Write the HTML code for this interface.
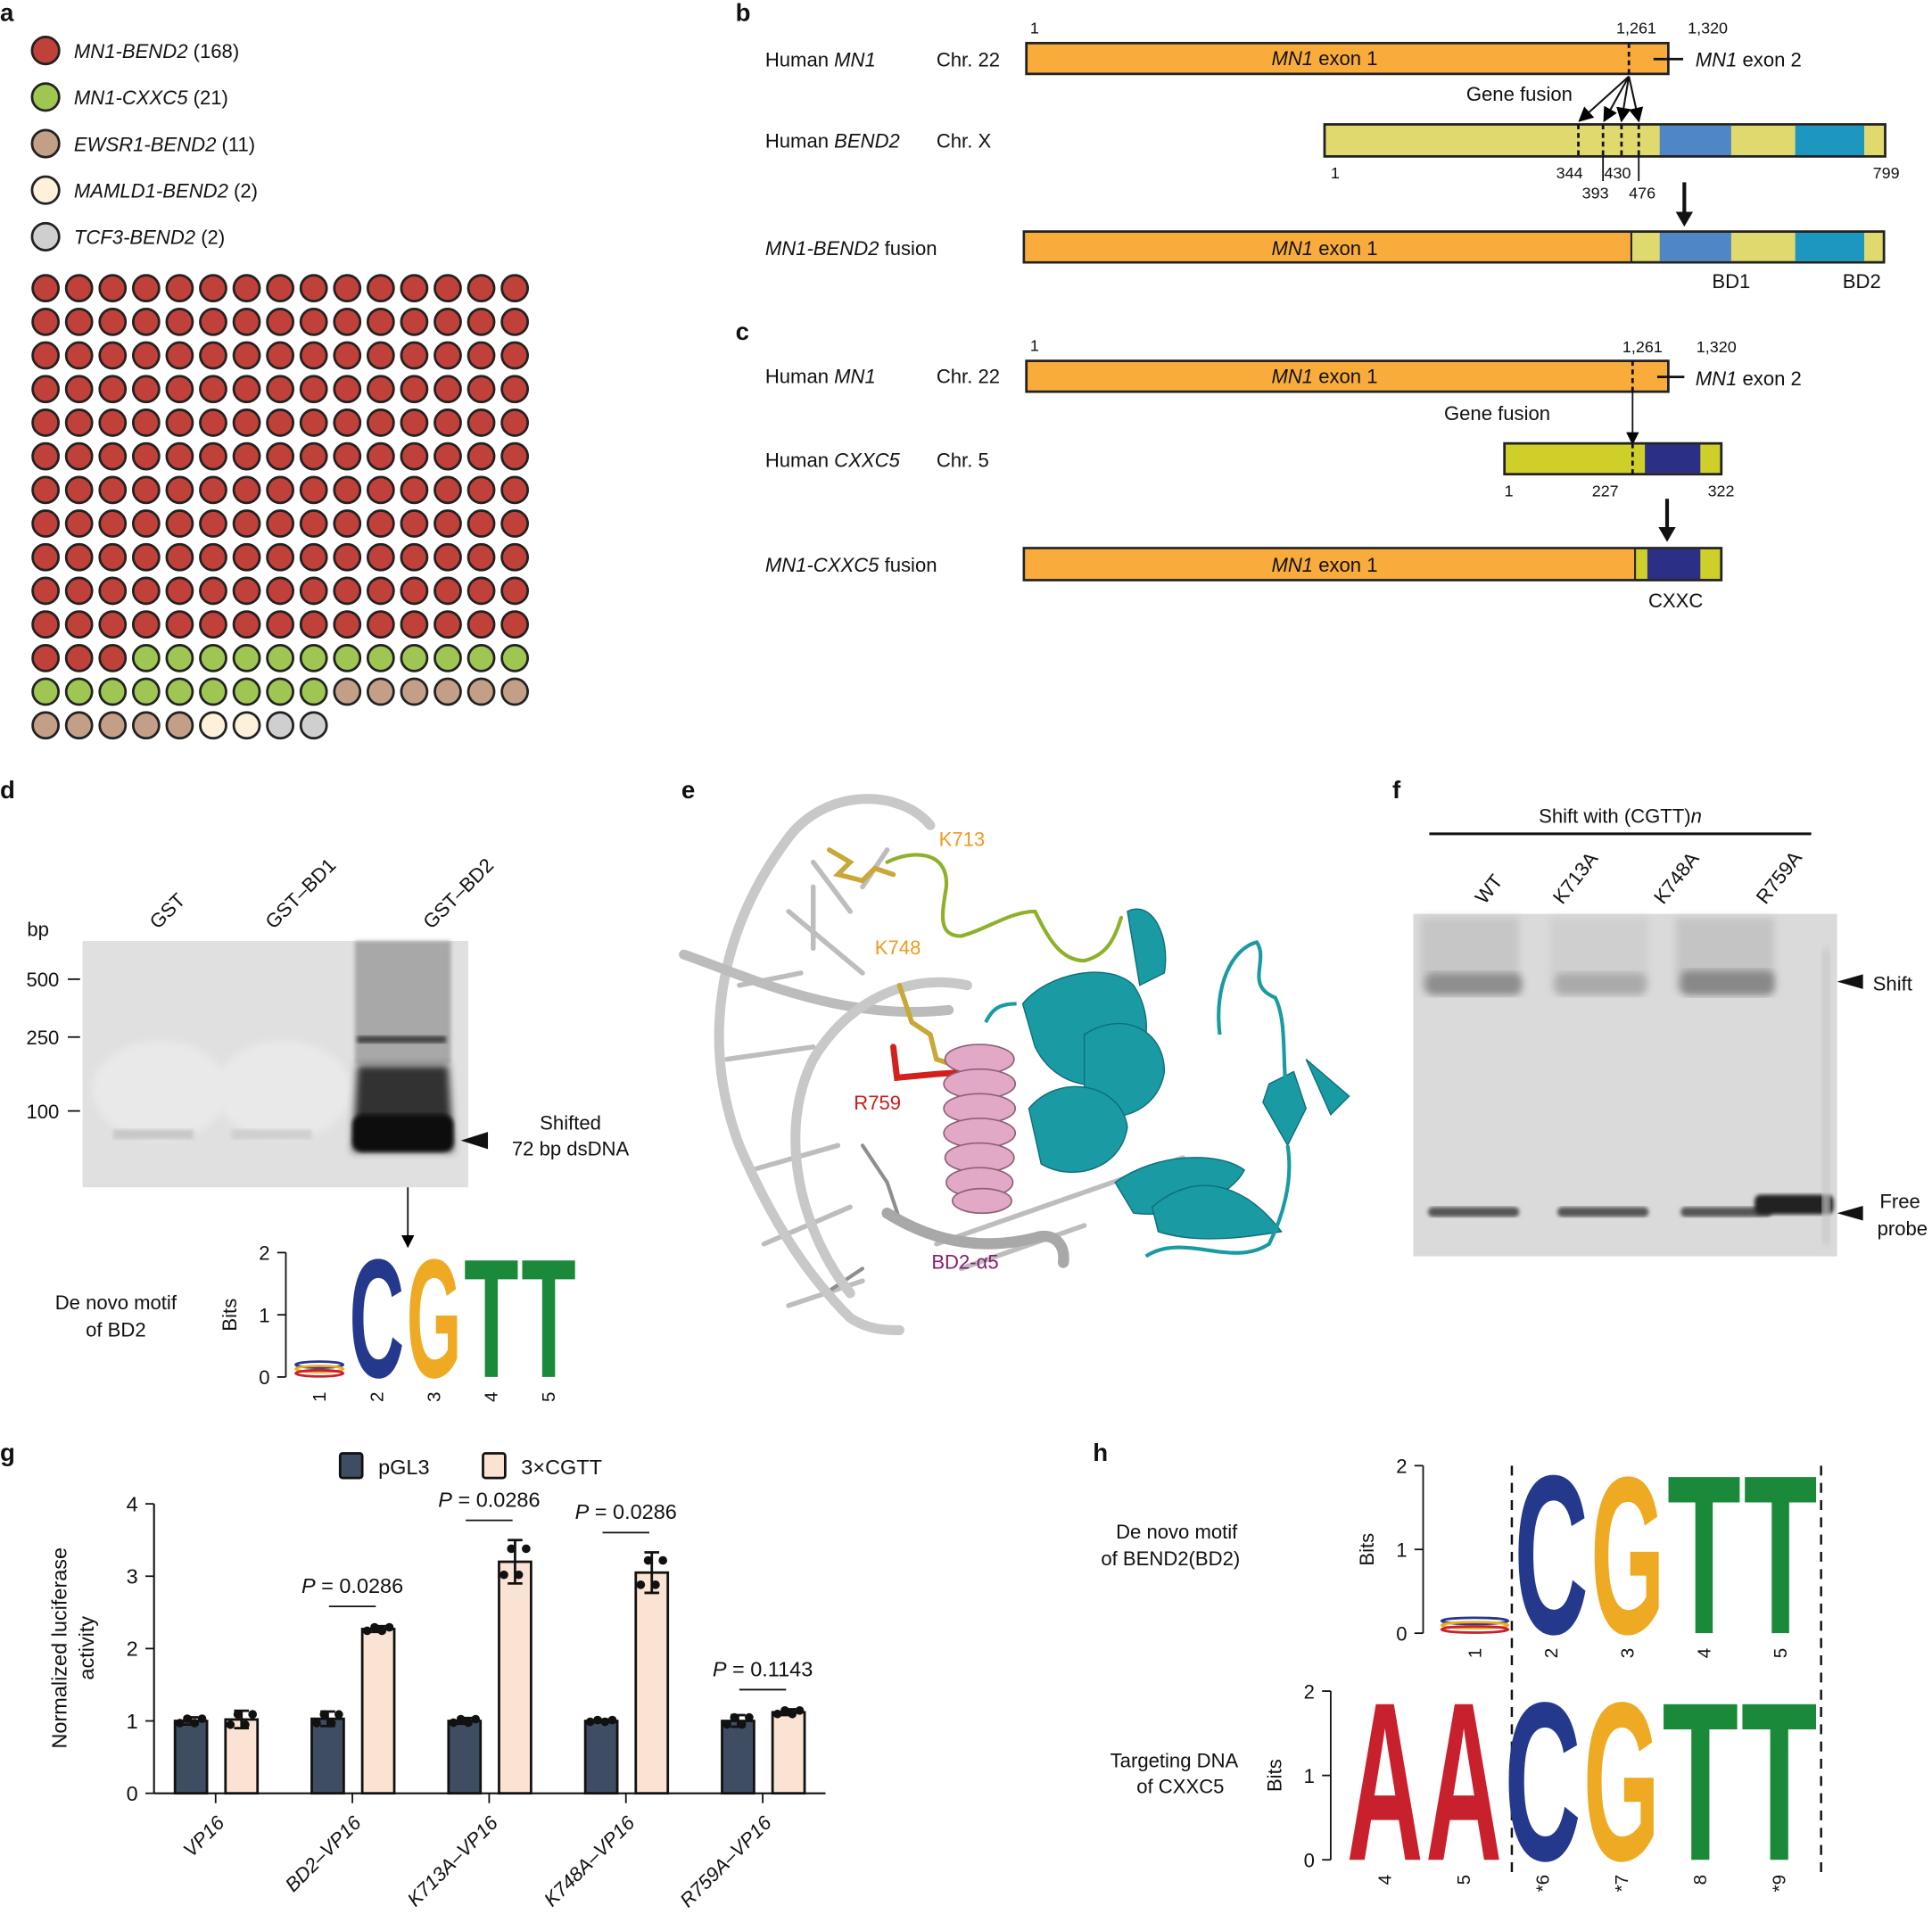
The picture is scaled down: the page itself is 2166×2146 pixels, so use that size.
<!DOCTYPE html>
<html><head><meta charset="utf-8"><style>
html,body{margin:0;padding:0;background:#fff}
svg{display:block;font-family:"Liberation Sans",sans-serif}
</style></head><body>
<svg id="fig" width="2166" height="2146" viewBox="0 0 1568 1554" preserveAspectRatio="none" xmlns="http://www.w3.org/2000/svg">
<defs>
<marker id="ah" markerWidth="8" markerHeight="8" refX="7" refY="4" orient="auto"><path d="M0,0 L8,4 L0,8 z" fill="#000"/></marker>
<filter id="blur2"><feGaussianBlur stdDeviation="3"/></filter>
<filter id="blur1"><feGaussianBlur stdDeviation="1.5"/></filter>
</defs>
<g font-size="16" fill="#111">
<text x="0" y="17" font-weight="bold" font-size="20">a</text>
<text x="597" y="17" font-weight="bold" font-size="20">b</text>
<text x="597" y="276" font-weight="bold" font-size="20">c</text>
<text x="0" y="648" font-weight="bold" font-size="20">d</text>
<text x="553" y="648" font-weight="bold" font-size="20">e</text>
<text x="1130" y="648" font-weight="bold" font-size="20">f</text>
<text x="0" y="1186" font-weight="bold" font-size="20">g</text>
<text x="887" y="1186" font-weight="bold" font-size="20">h</text>
</g>
<g id="panelA"></g>

<g font-size="16" fill="#111">
<text x="621" y="54">Human <tspan font-style="italic">MN1</tspan></text>
<text x="760" y="54">Chr. 22</text>
<rect x="833" y="35" width="521" height="25" fill="#f9ac3b" stroke="#222" stroke-width="2"/>
<text x="1075" y="53" text-anchor="middle"><tspan font-style="italic">MN1</tspan> exon 1</text>
<text x="836" y="27" font-size="13">1</text>
<text x="1328" y="27" font-size="13" text-anchor="middle">1,261</text>
<text x="1386" y="27" font-size="13" text-anchor="middle">1,320</text>
<line x1="1322" y1="35" x2="1322" y2="60" stroke="#111" stroke-width="2" stroke-dasharray="4,3"/>
<line x1="1342" y1="48" x2="1366" y2="48" stroke="#111" stroke-width="2"/>
<text x="1376" y="54"><tspan font-style="italic">MN1</tspan> exon 2</text>
<text x="1190" y="82">Gene fusion</text>
<g stroke="#111" stroke-width="1.5" marker-end="url(#ah)">
<line x1="1322" y1="62" x2="1282" y2="98"/><line x1="1322" y1="62" x2="1302" y2="98"/>
<line x1="1322" y1="62" x2="1316" y2="98"/><line x1="1322" y1="62" x2="1330" y2="98"/></g>
<text x="621" y="120">Human <tspan font-style="italic">BEND2</tspan></text>
<text x="760" y="120">Chr. X</text>
<rect x="1075" y="101" width="455" height="26" fill="#e0d96e" stroke="#222" stroke-width="2"/>
<rect x="1347" y="102" width="58" height="24" fill="#4f86c6"/>
<rect x="1457" y="102" width="56" height="24" fill="#1d97bf"/>
<g stroke="#111" stroke-width="2" stroke-dasharray="4,3"><line x1="1281" y1="101" x2="1281" y2="127"/><line x1="1301" y1="101" x2="1301" y2="127"/><line x1="1316" y1="101" x2="1316" y2="127"/><line x1="1330" y1="101" x2="1330" y2="127"/></g>
<g stroke="#111" stroke-width="1.3"><line x1="1301" y1="127" x2="1301" y2="147"/><line x1="1330" y1="127" x2="1330" y2="147"/></g>
<g font-size="13"><text x="1080" y="145">1</text><text x="1263" y="145">344</text><text x="1284" y="161">393</text><text x="1302" y="145">430</text><text x="1322" y="161">476</text><text x="1520" y="145">799</text></g>
<line x1="1367" y1="148" x2="1367" y2="180" stroke="#111" stroke-width="3"/><path d="M1360,172 L1374,172 L1367,184 z" fill="#111"/>
<text x="621" y="207"><tspan font-style="italic">MN1-BEND2</tspan> fusion</text>
<rect x="831" y="188" width="698" height="25" fill="#e0d96e" stroke="#222" stroke-width="2"/>
<rect x="832" y="189" width="492" height="23" fill="#f9ac3b"/>
<line x1="1324" y1="188" x2="1324" y2="213" stroke="#222" stroke-width="1.5"/>
<rect x="1347" y="189" width="58" height="23" fill="#4f86c6"/>
<rect x="1457" y="189" width="56" height="23" fill="#1d97bf"/>
<text x="1075" y="207" text-anchor="middle"><tspan font-style="italic">MN1</tspan> exon 1</text>
<text x="1405" y="234" text-anchor="middle">BD1</text>
<text x="1511" y="234" text-anchor="middle">BD2</text>
</g>

<g font-size="16" fill="#111">
<text x="621" y="311">Human <tspan font-style="italic">MN1</tspan></text>
<text x="760" y="311">Chr. 22</text>
<rect x="833" y="293" width="521" height="25" fill="#f9ac3b" stroke="#222" stroke-width="2"/>
<text x="1075" y="311" text-anchor="middle"><tspan font-style="italic">MN1</tspan> exon 1</text>
<text x="836" y="285" font-size="13">1</text>
<text x="1333" y="286" font-size="13" text-anchor="middle">1,261</text>
<text x="1393" y="286" font-size="13" text-anchor="middle">1,320</text>
<line x1="1325" y1="293" x2="1325" y2="318" stroke="#111" stroke-width="2" stroke-dasharray="4,3"/>
<line x1="1345" y1="306" x2="1367" y2="306" stroke="#111" stroke-width="2"/>
<text x="1376" y="313"><tspan font-style="italic">MN1</tspan> exon 2</text>
<text x="1172" y="341">Gene fusion</text>
<line x1="1325" y1="318" x2="1325" y2="360" stroke="#111" stroke-width="1.3" marker-end="url(#ah)"/>
<text x="621" y="379">Human <tspan font-style="italic">CXXC5</tspan></text>
<text x="760" y="379">Chr. 5</text>
<rect x="1221" y="360" width="176" height="25" fill="#cfcf2a" stroke="#222" stroke-width="2"/>
<rect x="1335" y="361" width="45" height="23" fill="#2b2f86"/>
<line x1="1325" y1="360" x2="1325" y2="385" stroke="#111" stroke-width="2" stroke-dasharray="4,3"/>
<g font-size="13"><text x="1221" y="403">1</text><text x="1292" y="403">227</text><text x="1386" y="403">322</text></g>
<line x1="1353" y1="405" x2="1353" y2="436" stroke="#111" stroke-width="3"/><path d="M1346,428 L1360,428 L1353,440 z" fill="#111"/>
<text x="621" y="464"><tspan font-style="italic">MN1-CXXC5</tspan> fusion</text>
<rect x="831" y="445" width="566" height="26" fill="#cfcf2a" stroke="#222" stroke-width="2"/>
<rect x="832" y="446" width="495" height="24" fill="#f9ac3b"/>
<line x1="1327" y1="445" x2="1327" y2="471" stroke="#222" stroke-width="1.5"/>
<rect x="1337" y="446" width="43" height="24" fill="#2b2f86"/>
<text x="1075" y="464" text-anchor="middle"><tspan font-style="italic">MN1</tspan> exon 1</text>
<text x="1360" y="493" text-anchor="middle">CXXC</text>
</g>

<g font-size="16" fill="#111">
<text x="0" y="0" transform="translate(128,755) rotate(-45)">GST</text>
<text x="0" y="0" transform="translate(222,755) rotate(-45)">GST–BD1</text>
<text x="0" y="0" transform="translate(350,755) rotate(-45)">GST–BD2</text>
<text x="22" y="760">bp</text>
<rect x="67" y="764" width="313" height="200" fill="#e0e0e0"/>
<ellipse cx="130" cy="885" rx="55" ry="40" fill="#e9e9e9" filter="url(#blur2)"/>
<ellipse cx="230" cy="885" rx="55" ry="40" fill="#e9e9e9" filter="url(#blur2)"/>
<rect x="92" y="917" width="65" height="8" fill="#c8c8c8" filter="url(#blur1)"/>
<rect x="188" y="917" width="65" height="8" fill="#cfcfcf" filter="url(#blur1)"/>
<rect x="288" y="764" width="78" height="100" fill="#a8a8a8" filter="url(#blur1)"/>
<rect x="290" y="841" width="72" height="6" fill="#444" filter="url(#blur1)"/>
<path d="M290,865 L364,865 L368,935 L286,935 z" fill="#333" filter="url(#blur2)"/>
<rect x="286" y="905" width="82" height="30" rx="8" fill="#0a0a0a" filter="url(#blur1)"/>
<text x="48" y="801" text-anchor="end">500</text><line x1="55" y1="795" x2="65" y2="795" stroke="#111" stroke-width="1.3"/>
<text x="48" y="848" text-anchor="end">250</text><line x1="55" y1="842" x2="65" y2="842" stroke="#111" stroke-width="1.3"/>
<text x="48" y="908" text-anchor="end">100</text><line x1="55" y1="902" x2="65" y2="902" stroke="#111" stroke-width="1.3"/>
<path d="M374,926 L396,919 L396,933 z" fill="#111"/>
<text x="463" y="917" text-anchor="middle">Shifted</text>
<text x="463" y="938" text-anchor="middle">72 bp dsDNA</text>
<line x1="331" y1="964" x2="331" y2="1012" stroke="#111" stroke-width="1.3" marker-end="url(#ah)"/>
<text x="94" y="1063" text-anchor="middle">De novo motif</text>
<text x="94" y="1085" text-anchor="middle">of BD2</text>
</g>
<g id="logoD"></g>

<g>
<g fill="none" stroke-linecap="round">
<g stroke="#bdbdbd" stroke-width="4">
<line x1="660" y1="700" x2="690" y2="740"/><line x1="640" y1="740" x2="700" y2="790"/><line x1="600" y1="800" x2="650" y2="790"/><line x1="590" y1="860" x2="660" y2="850"/><line x1="610" y1="950" x2="680" y2="930"/><line x1="620" y1="1010" x2="690" y2="980"/><line x1="700" y1="720" x2="720" y2="690"/><line x1="760" y1="1010" x2="960" y2="940"/><line x1="780" y1="1030" x2="880" y2="995"/><line x1="640" y1="1060" x2="700" y2="1040"/><line x1="660" y1="720" x2="660" y2="770"/></g>
<g stroke="#8e8e8e" stroke-width="3"><line x1="700" y1="930" x2="720" y2="960"/><line x1="720" y1="960" x2="730" y2="990"/><line x1="670" y1="1050" x2="700" y2="1030"/></g>
<path d="M755,670 C730,640 670,640 640,680 C580,760 570,850 600,930 C630,1000 660,1040 690,1070 C705,1080 720,1080 730,1080" stroke="#c8c8c8" stroke-width="8"/>
<path d="M555,775 C600,790 680,830 770,820" stroke="#bcbcbc" stroke-width="8"/>
<path d="M785,800 C740,790 690,810 660,860 C630,920 650,1000 690,1050" stroke="#c8c8c8" stroke-width="8"/>
<path d="M720,985 C760,1010 800,1015 840,1005 C855,1000 865,1010 863,1025" stroke="#a8a8a8" stroke-width="9"/>
<path d="M720,700 C740,690 770,690 768,720 C765,740 760,760 780,760 C800,755 820,740 840,740 C850,760 860,780 880,780 C900,775 905,760 910,745" stroke="#8fb02a" stroke-width="3"/>
<path d="M673,690 L690,700 L680,710 L700,715 L710,705 L725,710" stroke="#c9a838" stroke-width="4"/>
<path d="M730,800 L740,830 L755,840 L760,860 L775,865" stroke="#c9a838" stroke-width="4"/>
<path d="M725,850 L728,875 L760,872 L790,870" stroke="#d2201c" stroke-width="5"/>
</g>
<g fill="#1a9aa3" stroke="#0e6e78" stroke-width="1">
<path d="M830,815 C850,790 900,780 920,800 C940,830 930,870 900,880 C870,885 850,870 840,850 z"/>
<path d="M880,840 C910,820 945,835 945,870 C940,905 900,915 880,900 z"/>
<path d="M835,900 C860,870 910,880 915,915 C910,950 870,960 845,945 z"/>
<path d="M915,740 C935,730 950,760 945,790 L925,800 z"/>
<path d="M905,960 C940,935 990,935 1010,950 C1000,970 960,990 920,985 z"/>
<path d="M935,980 C970,950 1010,960 1040,1000 C1010,1005 970,1010 940,1000 z"/>
<path d="M1030,880 L1050,870 L1060,900 L1045,930 L1025,895 z"/>
<path d="M1060,860 L1095,890 L1080,905 z"/>
</g>
<g fill="none" stroke="#1a9aa3" stroke-width="3">
<path d="M990,840 C985,800 1000,770 1020,765 C1030,780 1010,800 1035,810 C1045,830 1040,860 1045,900"/>
<path d="M1045,930 C1050,960 1040,990 1030,1010 C1000,1030 960,1000 930,1020"/>
<path d="M800,830 C805,820 810,815 825,815"/>
</g>
<g fill="#e2a9c6" stroke="#8f5f77" stroke-width="1.2">
<ellipse cx="795" cy="860" rx="28" ry="12"/><ellipse cx="795" cy="880" rx="29" ry="12"/><ellipse cx="795" cy="900" rx="29" ry="12"/><ellipse cx="795" cy="920" rx="29" ry="12"/><ellipse cx="795" cy="940" rx="28" ry="12"/><ellipse cx="795" cy="960" rx="27" ry="12"/><ellipse cx="797" cy="975" rx="24" ry="10"/>
</g>
<g font-size="16"><text x="762" y="687" fill="#ee9a1d">K713</text><text x="710" y="775" fill="#ee9a1d">K748</text><text x="693" y="901" fill="#cc1818">R759</text><text x="756" y="1030" fill="#8a1b6e">BD2-α5</text></g>
</g>

<g font-size="16" fill="#111">
<text x="1315" y="668" text-anchor="middle">Shift with (CGTT)<tspan font-style="italic">n</tspan></text>
<line x1="1160" y1="677" x2="1470" y2="677" stroke="#111" stroke-width="2.2"/>
<text transform="translate(1205,735) rotate(-52)">WT</text>
<text transform="translate(1268,735) rotate(-52)">K713A</text>
<text transform="translate(1350,735) rotate(-52)">K748A</text>
<text transform="translate(1433,735) rotate(-52)">R759A</text>
<rect x="1147" y="742" width="344" height="278" fill="#dadada"/>
<rect x="1153" y="745" width="80" height="60" fill="#c6c6c6" filter="url(#blur2)"/>
<rect x="1258" y="745" width="80" height="60" fill="#cfcfcf" filter="url(#blur2)"/>
<rect x="1360" y="745" width="80" height="60" fill="#c4c4c4" filter="url(#blur2)"/>
<rect x="1157" y="790" width="78" height="18" rx="6" fill="#8e8e8e" filter="url(#blur2)"/>
<rect x="1262" y="790" width="74" height="18" rx="6" fill="#aaaaaa" filter="url(#blur2)"/>
<rect x="1364" y="788" width="76" height="20" rx="6" fill="#888" filter="url(#blur2)"/>
<rect x="1159" y="980" width="74" height="8" rx="4" fill="#555" filter="url(#blur1)"/>
<rect x="1264" y="980" width="74" height="8" rx="4" fill="#555" filter="url(#blur1)"/>
<rect x="1364" y="980" width="74" height="8" rx="4" fill="#555" filter="url(#blur1)"/>
<rect x="1424" y="970" width="64" height="16" rx="5" fill="#222" filter="url(#blur1)"/>
<rect x="1479" y="770" width="6" height="240" fill="#c8c8c8" filter="url(#blur2)"/>
<path d="M1491,797 L1512,791 L1512,803 z"/><text x="1520" y="804">Shift</text>
<path d="M1491,985 L1512,979 L1512,991 z"/><text x="1542" y="981" text-anchor="middle">Free</text><text x="1544" y="1003" text-anchor="middle">probe</text>
</g>

<g id="chartG" font-size="16" fill="#111"></g>

<g font-size="16" fill="#111">
<text x="955" y="1249" text-anchor="middle">De novo motif</text>
<text x="950" y="1271" text-anchor="middle">of BEND2(BD2)</text>
<text x="953" y="1435" text-anchor="middle">Targeting DNA</text>
<text x="958" y="1456" text-anchor="middle">of CXXC5</text>
<g stroke="#111" stroke-width="1.8" stroke-dasharray="8,6">
<line x1="1227" y1="1190" x2="1227" y2="1520"/><line x1="1478" y1="1190" x2="1478" y2="1520"/></g>
</g>
<g id="logoH1"></g>
<g id="logoH2"></g>
</svg>
<script>
const NS='http://www.w3.org/2000/svg';
function mk(tag,attrs,parent){const e=document.createElementNS(NS,tag);for(const k in attrs)e.setAttribute(k,attrs[k]);parent.appendChild(e);return e;}

const fusionNames=['MN1-BEND2','MN1-CXXC5','EWSR1-BEND2','MAMLD1-BEND2','TCF3-BEND2'];
const fusionCounts=[168,21,11,2,2];
const fusionColors=['#c0403a','#9fc553','#c39f88','#fdf1dc','#cfcfcf'];
const gA=document.getElementById('panelA');
fusionNames.forEach((n,i)=>{
  const y=41+i*37.8;
  const c=mk('circle',{cx:37,cy:y,r:11,fill:fusionColors[i],stroke:'#222','stroke-width':2},gA);
  
  
  const t=mk('text',{x:60,y:y+6,'font-size':16,fill:'#111'},gA);
  t.innerHTML='<tspan font-style="italic">'+n+'</tspan> ('+fusionCounts[i]+')';
  
  
});
let idx=0;
fusionCounts.forEach((cnt,i)=>{
  for(let k=0;k<cnt;k++){
    const col=idx%15,row=Math.floor(idx/15);
    const c=mk('circle',{cx:37+col*27.2,cy:234+row*27.3,r:10.5,fill:fusionColors[i],stroke:'#222','stroke-width':2},gA);
    
    
    idx++;
  }
});

const logoLetterColors={A:'#c8202c',C:'#24398c',G:'#eeaa22',T:'#1a8a3a'};
const logoD_letters=['C','G','T','T'];
const logoD_bits=[1.96,1.96,1.96,1.96];
const logoH1_letters=['C','G','T','T'];
const logoH1_bits=[1.95,1.93,1.95,1.95];
const logoH2_letters=['A','A','C','G','T','T'];
const logoH2_bits=[1.93,1.93,1.93,1.93,1.93,1.93];

function drawLogo(g,axisX,y0,y2,firstX,colW,letters,bits,posLabels,smallFirst,startCol){
  const ppb=(y0-y2)/2;
  mk('line',{x1:axisX,y1:y2,x2:axisX,y2:y0,stroke:'#111','stroke-width':1.3},g);
  [0,1,2].forEach(v=>{
    const y=y0-v*ppb;
    mk('line',{x1:axisX-7,y1:y,x2:axisX,y2:y,stroke:'#111','stroke-width':1.3},g);
    const t=mk('text',{x:axisX-13,y:y+6,'text-anchor':'end','font-size':16,fill:'#111'},g);t.textContent=v;
  });
  const bt=mk('text',{transform:`translate(${axisX-40},${(y0+y2)/2}) rotate(-90)`,'text-anchor':'middle','font-size':16,fill:'#111'},g);bt.textContent='Bits';
  if(smallFirst){
    const x=firstX;
    ['#24398c','#eeaa22','#c8202c'].forEach((c,i)=>{
      mk('ellipse',{cx:x+colW/2,cy:y0-10+i*3.5,rx:colW/2-4,ry:2.5,fill:'none',stroke:c,'stroke-width':2},g);
    });
  }
  letters.forEach((L,i)=>{
    const col=i+startCol;
    const x=firstX+col*colW;
    const h=bits[i]*ppb;
    const t=mk('text',{'font-size':100,'font-weight':'bold',fill:logoLetterColors[L],textLength:70,lengthAdjust:'spacingAndGlyphs',
      transform:`translate(${x+1},${y0}) scale(${(colW-2)/70},${h/72})`},g);
    t.textContent=L;
    
    
  });
  posLabels.forEach((p,i)=>{
    const x=firstX+i*colW+colW/2;
    const t=mk('text',{transform:`translate(${x+5},${y0+12}) rotate(-90)`,'text-anchor':'end','font-size':15,fill:'#111'},g);t.textContent=p;
  });
}
drawLogo(document.getElementById('logoD'),232,1118,1017,236,46.5,logoD_letters,logoD_bits,['1','2','3','4','5'],true,1);
drawLogo(document.getElementById('logoH1'),1155,1326,1190,1166,62,logoH1_letters,logoH1_bits,['1','2','3','4','5'],true,1);
drawLogo(document.getElementById('logoH2'),1080,1510,1373,1092,64,logoH2_letters,logoH2_bits,['4','5','*6','*7','8','*9'],false,0);

const groups=['VP16','BD2–VP16','K713A–VP16','K748A–VP16','R759A–VP16'];
const pgl3=[1.0,1.03,1.0,1.0,1.0];
const pgl3Err=[0.05,0.1,0.04,0.02,0.08];
const cgtt=[1.02,2.27,3.2,3.05,1.12];
const cgttErr=[0.12,0.04,0.3,0.28,0.04];
const pvals=['','0.0286','0.0286','0.0286','0.1143'];
const yTicks=[0,1,2,3,4];
const gG=document.getElementById('chartG');
const X0=125,Y0=1456,PPU=58.75,GX=155,GW=111;
const yS=v=>Y0-v*PPU;
const xS=i=>GX+i*GW;
mk('line',{x1:X0,y1:yS(4),x2:X0,y2:Y0,stroke:'#111','stroke-width':1.5},gG);
mk('line',{x1:X0,y1:Y0,x2:670,y2:Y0,stroke:'#111','stroke-width':1.5},gG);
yTicks.forEach(v=>{
  mk('line',{x1:X0-7,y1:yS(v),x2:X0,y2:yS(v),stroke:'#111','stroke-width':1.3},gG);
  const t=mk('text',{x:X0-13,y:yS(v)+6,'text-anchor':'end','font-size':17},gG);t.textContent=v;
});
const yl=mk('text',{transform:'translate(54,1338) rotate(-90)','text-anchor':'middle','font-size':17},gG);yl.textContent='Normalized luciferase';
const yl2=mk('text',{transform:'translate(76,1338) rotate(-90)','text-anchor':'middle','font-size':17},gG);yl2.textContent='activity';
function bar(x,v,e,fill,name){
  const r=mk('rect',{x:x-13,y:yS(v),width:26,height:Y0-yS(v),fill:fill,stroke:'#111','stroke-width':2},gG);
  
  
  mk('line',{x1:x,y1:yS(v-e),x2:x,y2:yS(v+e),stroke:'#111','stroke-width':2},gG);
  mk('line',{x1:x-6,y1:yS(v+e),x2:x+6,y2:yS(v+e),stroke:'#111','stroke-width':2},gG);
  mk('line',{x1:x-6,y1:yS(v-e),x2:x+6,y2:yS(v-e),stroke:'#111','stroke-width':2},gG);
  [-9,-3,3,9].forEach((dx,k)=>{mk('circle',{cx:x+dx,cy:yS(v+(k%2?e:-e)*0.6),r:3.5,fill:'#111'},gG);});
}
groups.forEach((g,i)=>{
  const cx=xS(i);
  bar(cx,pgl3[i],pgl3Err[i],'#3f4d63','bar-pgl3-'+i);
  bar(cx+41,cgtt[i],cgttErr[i],'#fbe3d3','bar-3xcgtt-'+i);
  const tx=cx+20;
  mk('line',{x1:tx,y1:Y0,x2:tx,y2:Y0+8,stroke:'#111','stroke-width':1.3},gG);
  const t=mk('text',{transform:`translate(${tx+8},${Y0+25}) rotate(-45)`,'text-anchor':'end','font-size':16,'font-style':'italic'},gG);t.textContent=g;
  if(pvals[i]){
    const top=Math.max(pgl3[i]+pgl3Err[i],cgtt[i]+cgttErr[i]);
    const ly=yS(top)-16;
    mk('line',{x1:tx-19,y1:ly,x2:tx+19,y2:ly,stroke:'#111','stroke-width':1.3},gG);
    const p=mk('text',{x:tx,y:ly-11,'text-anchor':'middle','font-size':17},gG);
    p.innerHTML='<tspan font-style="italic">P</tspan> = '+pvals[i];
  }
});
[['pGL3','#3f4d63',276],['3×CGTT','#fbe3d3',392]].forEach(([n,c,x])=>{
  const r=mk('rect',{x:x,y:1180,width:18,height:20,rx:2,fill:c,stroke:'#111','stroke-width':2},gG);
  
  
  const t=mk('text',{x:x+31,y:1197,'font-size':17},gG);t.textContent=n;
});
</script>
</body></html>
